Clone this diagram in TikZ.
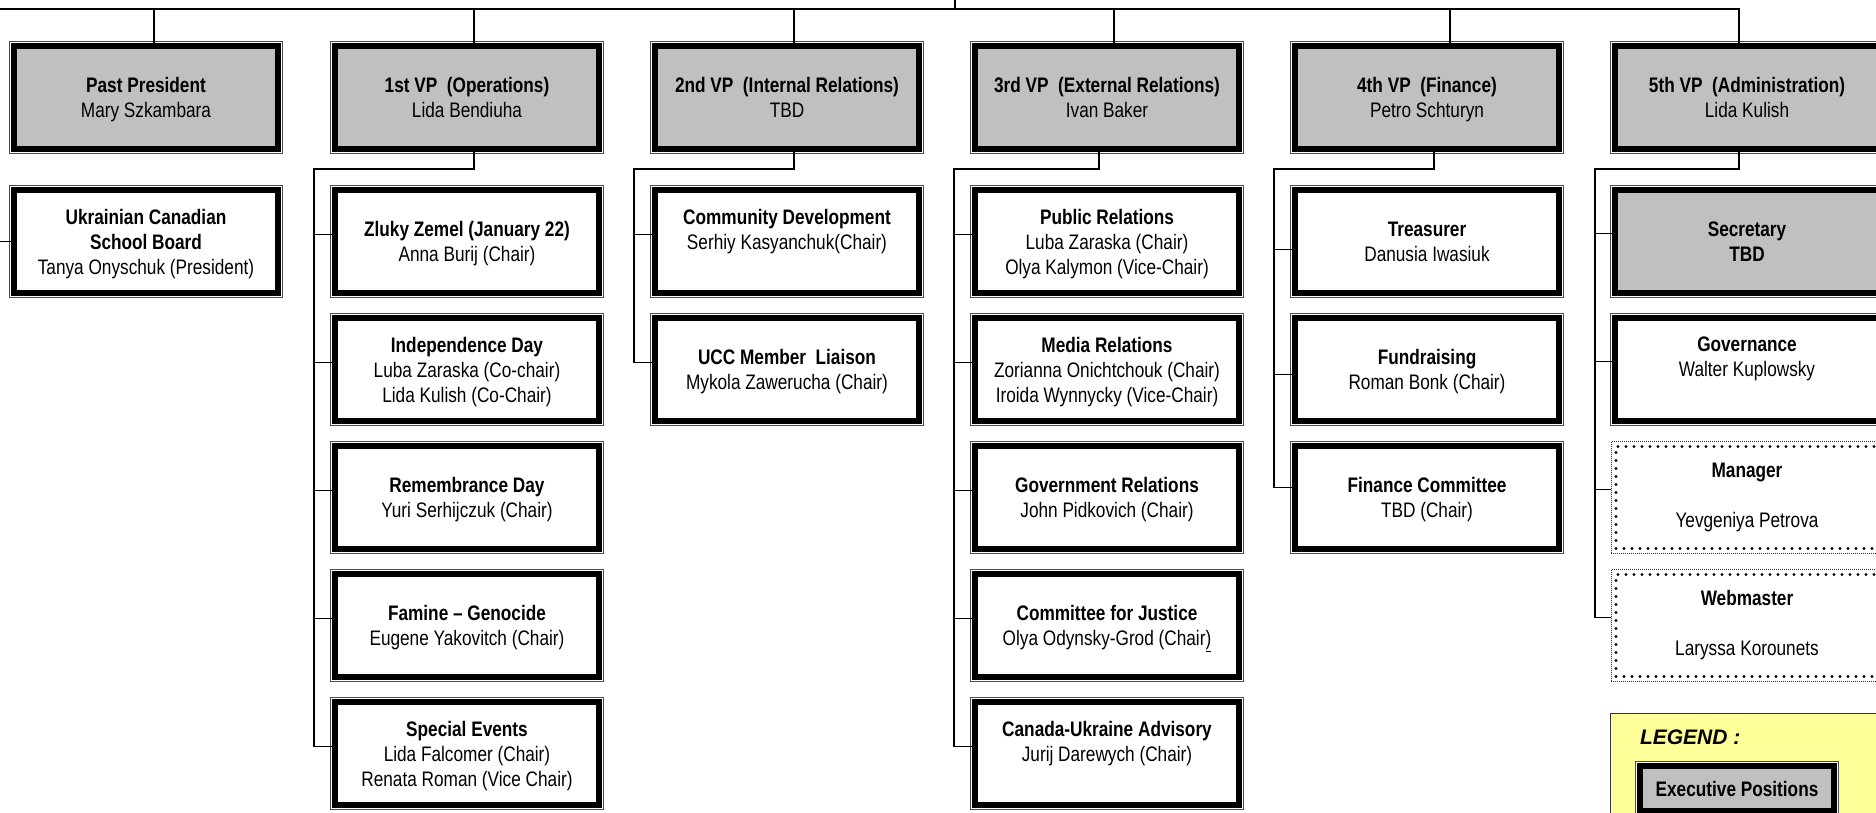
\documentclass[tikz,border=0pt]{standalone}
\usepackage{fontspec}
\setmainfont{Liberation Sans}[FakeStretch=0.82]
\newfontfamily\widefont{Liberation Sans}
\usetikzlibrary{positioning}

\definecolor{execgray}{RGB}{192,192,192}
\definecolor{legendyellow}{RGB}{255,255,153}

\tikzset{
  every node/.style={align=center, outer sep=0pt,
    font=\fontsize{21}{25}\selectfont},
  post/.style={rectangle, minimum width=264pt, minimum height=103pt,
    preaction={draw=black!70, line width=10.1pt},
    preaction={draw=white, line width=8.1pt},
    draw=black, line width=5.5pt, fill=white, text depth=-3pt},
  exec/.style={post, fill=execgray},
  staff/.style={rectangle, minimum width=262pt, minimum height=102pt,
    draw=black, line width=3.2pt, line cap=round, dash pattern=on 0pt off 8pt},
  staffframe/.style={draw=black!80, line width=0.8pt, dash pattern=on 1pt off 1pt},
  link/.style={draw=black, line width=1.3pt},
}

\begin{document}
\begin{tikzpicture}[x=1pt, y=-1pt]
\useasboundingbox (0,0) rectangle (1876,812);

% executive row
\node[exec] (pp)  at (146,97.5)  {\textbf{Past President}\\Mary Szkambara};
\node[exec] (vpa) at (467,97.5)  {\textbf{1st VP\ \ (Operations)}\\Lida Bendiuha};
\node[exec] (vpb) at (787,97.5)  {\textbf{2nd VP\ \ (Internal Relations)}\\TBD};
\node[exec] (vpc) at (1107,97.5) {\textbf{3rd VP\ \ (External Relations)}\\Ivan Baker};
\node[exec] (vpd) at (1427,97.5) {\textbf{4th VP\ \ (Finance)}\\Petro Schturyn};
\node[exec] (vpe) at (1747,97.5) {\textbf{5th VP\ \ (Administration)}\\Lida Kulish};

% past president
\node[post, below=41pt of pp] (ucsb) {\textbf{Ukrainian Canadian}\\\textbf{School Board}\\Tanya Onyschuk (President)};

% 1st VP
\node[post, below=41pt of vpa] (zz)  {\textbf{Zluky Zemel (January 22)}\\Anna Burij (Chair)};
\node[post, below=25pt of zz]  (ind) {\textbf{Independence Day}\\Luba Zaraska (Co-chair)\\Lida Kulish (Co-Chair)};
\node[post, below=25pt of ind] (rem) {\textbf{Remembrance Day}\\Yuri Serhijczuk (Chair)};
\node[post, below=25pt of rem] (fam) {\textbf{Famine – Genocide}\\Eugene Yakovitch (Chair)};
\node[post, below=25pt of fam] (spe) {\textbf{Special Events}\\Lida Falcomer (Chair)\\Renata Roman (Vice Chair)};

% 2nd VP
\node[post, below=41pt of vpb] (cd)  {\textbf{Community Development}\\Serhiy Kasyanchuk(Chair)\\\strut};
\node[post, below=25pt of cd]  (ucc) {\textbf{UCC Member\ \ Liaison}\\Mykola Zawerucha (Chair)};

% 3rd VP
\node[post, below=41pt of vpc] (pr)  {\textbf{Public Relations}\\Luba Zaraska (Chair)\\Olya Kalymon (Vice-Chair)};
\node[post, below=25pt of pr]  (mr)  {\textbf{Media Relations}\\Zorianna Onichtchouk (Chair)\\Iroida Wynnycky (Vice-Chair)};
\node[post, below=25pt of mr]  (gr)  {\textbf{Government Relations}\\John Pidkovich (Chair)};
\node[post, below=25pt of gr]  (cj)  {\textbf{Committee for Justice}\\Olya Odynsky-Grod (Chair\underline{)}};
\node[post, below=25pt of cj]  (cua) {\textbf{Canada-Ukraine Advisory}\\Jurij Darewych (Chair)\\\strut};

% 4th VP
\node[post, below=41pt of vpd] (tre) {\textbf{Treasurer}\\Danusia Iwasiuk};
\node[post, below=25pt of tre] (fr)  {\textbf{Fundraising}\\Roman Bonk (Chair)};
\node[post, below=25pt of fr]  (fin) {\textbf{Finance Committee}\\TBD (Chair)};

% 5th VP
\node[exec, below=41pt of vpe] (sec) {\textbf{Secretary}\\\textbf{TBD}};
\node[post, below=25pt of sec] (gov) {\textbf{Governance}\\Walter Kuplowsky\\\strut};
\node[staff] (mgr) at (1747,497.5) {\textbf{Manager}\\[25pt]Yevgeniya Petrova};
\node[staff] (web) at (1747,625.5) {\textbf{Webmaster}\\[25pt]Laryssa Korounets};
\foreach \n in {mgr,web}
  \draw[staffframe] ([shift={(-5pt,5pt)}]\n.north west) rectangle ([shift={(5pt,-5pt)}]\n.south east);

% legend
\node[draw=black!80, line width=1pt, fill=legendyellow, minimum width=290pt,
  minimum height=130pt, anchor=north west] (legend) at (1610,713) {};
\node[anchor=west, inner sep=0pt, font=\widefont\bfseries\itshape\fontsize{21}{25}\selectfont]
  (legtitle) at (1640,737) {LEGEND :};
\node[exec, minimum width=194pt, minimum height=45pt, anchor=north west]
  (legexec) at (1640,766) {\textbf{Executive Positions}};

% connectors
\coordinate (pres) at (955,0);
\coordinate (topbus) at (955,9);
\coordinate (topleft) at (0,9);
\coordinate (ucsbin) at (0,241.5);
\draw[link] (pres) -- (topbus);
\draw[link] (topleft) -- (topbus);
\foreach \v/\dx in {pp/8, vpa/7, vpb/7, vpc/7, vpd/23, vpe/-8}
  \draw[link] ([xshift=\dx pt]\v.north) |- (topbus);
\draw[link] (ucsbin) -- (ucsb.west);

\foreach \v/\dx/\last/\dy in {vpa/7/spe/7, vpb/7/ucc/7, vpc/-8/cua/7, vpd/7/fin/10, vpe/-8/web/8}
  \draw[link] ([xshift=\dx pt]\v.south) -- ++(0,20) -| ([shift={(-21pt,\dy pt)}]\last.west);
\foreach \n/\dy in {zz/7, ind/7, rem/7, fam/7, spe/7, cd/7, ucc/7,
                    pr/7, mr/7, gr/7, cj/7, cua/7, tre/-8, fr/-5, fin/10, sec/8, gov/8}
  \draw[link] ([shift={(-21pt,\dy pt)}]\n.west) -- ([yshift=\dy pt]\n.west);
\foreach \n in {mgr,web}
  \draw[link] ([shift={(-21pt,8pt)}]\n.west) -- ([shift={(-5pt,8pt)}]\n.west);
\end{tikzpicture}
\end{document}
